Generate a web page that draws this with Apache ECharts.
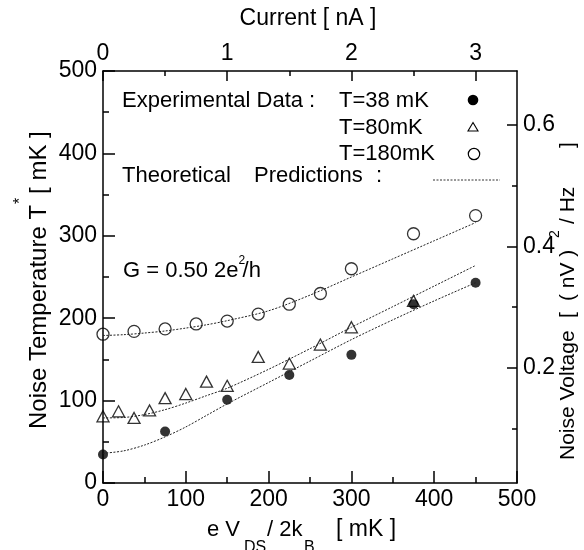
<!DOCTYPE html>
<html><head><meta charset="utf-8">
<script src="https://cdn.jsdelivr.net/npm/echarts@6/dist/echarts.min.js"></script>
<style>html,body{margin:0;padding:0;background:#fff}#c{width:584px;height:550px}</style>
</head><body><div id="c"></div>
<script>
// ---------- data ----------
const exp38X  = [0, 75, 150, 225, 300, 375, 450];
const exp38T  = [34.5, 62.5, 101, 131, 155.5, 217, 243];
const exp80X  = [0, 18.75, 37.5, 56.25, 75, 100, 125, 150, 187.5, 225, 262.5, 300, 375];
const exp80T  = [81, 87, 79, 88, 103, 108, 123, 118, 153, 145, 168, 189, 221];
const exp180X = [0, 37.5, 75, 112.5, 150, 187.5, 225, 262.5, 300, 375, 450];
const exp180T = [180.6, 184, 187, 193, 196.5, 205, 217, 230, 260, 302.5, 324.5];
const theoryX   = [0, 25, 50, 75, 100, 125, 150, 200, 250, 300, 350, 400, 450];
const theory38  = [36, 39, 46, 56, 68, 82, 96, 122, 148, 174, 198, 221, 243];
const theory80  = [79, 79.5, 83, 89, 97, 106, 115, 138, 163, 189, 214, 239, 264];
const theory180 = [179, 180, 182, 184.5, 188, 192, 197, 209, 228, 250, 272, 294, 316];
const bottomTicks = [0, 100, 200, 300, 400, 500];
const bottomMinor = [50, 150, 250, 350, 450];
const leftTicks = [0, 100, 200, 300, 400, 500];
const leftMinor = [50, 150, 250, 350, 450];
const currentTicks = [0, 1, 2, 3];        // nA
const currentMinor = [0.5, 1.5, 2.5];
const mKperNA = 150;
const voltMin = 0.0102, voltMax = 0.689;
const voltTicks = [0.2, 0.4, 0.6];
const voltMinor = [0.1, 0.3, 0.5];

// ---------- helpers ----------
const FONT = '"Liberation Sans", Arial, Helvetica, sans-serif';
const cv = document.createElement('canvas').getContext('2d');
function tw(s, size) { cv.font = size + 'px ' + FONT; return cv.measureText(s).width; }
const pair = (xs, ys) => xs.map((x, i) => [x, ys[i]]);
function txt(x, y, s, size, align) {
  return { type: 'text', x: x, y: y, silent: true,
    style: { text: s, fontSize: size, fontFamily: FONT, fill: '#000',
      align: align || 'left', verticalAlign: 'middle' } };
}

const chart = echarts.init(document.getElementById('c'), null, { renderer: 'canvas' });

const g = [];
g.push(txt(308, 19, 'Current [ nA ]', 23, 'center'));
(function () {
  const s1 = 'Noise Temperature T', fs = 24;
  const w1 = tw(s1, fs);
  g.push({ type: 'group', x: 39, y: 429, rotation: Math.PI / 2, silent: true, children: [
    txt(0, 0, s1, fs),
    txt(w1 + 1, -18, '*', 16),
    txt(w1 + 11, 0, '[ mK ]', fs)
  ]});
})();
(function () {
  const fs = 21;
  g.push({ type: 'group', x: 568, y: 460, rotation: Math.PI / 2, silent: true, children: [
    txt(0, 0, 'Noise Voltage', fs),
    txt(142, 0, '[', fs),
    txt(159, 0, '( nV )', fs),
    txt(222, -13, '2', 14),
    txt(236, 0, '/ Hz', fs),
    txt(312, 0, ']', fs)
  ]});
})();
(function () {
  const fs = 22, fsub = 16, y = 530, ys = 548;
  g.push(txt(207, y, 'e V', fs));
  g.push(txt(244, ys, 'DS', fsub));
  g.push(txt(267, y, '/ 2k', fs));
  g.push(txt(304, ys, 'B', fsub));
  g.push(txt(336, y, '[ mK ]', 23));
})();
g.push(txt(122, 101, 'Experimental Data :', 22));
g.push(txt(339, 101, 'T=38 mK', 22));
g.push(txt(339, 128, 'T=80mK', 22));
g.push(txt(339, 154, 'T=180mK', 22));
g.push({ type: 'circle', silent: true, shape: { cx: 473, cy: 100, r: 5.3 }, style: { fill: '#000' } });
g.push({ type: 'polygon', silent: true, shape: { points: [[473, 122.5], [478, 131], [468, 131]] }, style: { fill: 'none', stroke: '#000', lineWidth: 1.1 } });
g.push({ type: 'circle', silent: true, shape: { cx: 474, cy: 154, r: 5.7 }, style: { fill: 'none', stroke: '#000', lineWidth: 1.2 } });
g.push(txt(122, 176, 'Theoretical', 22));
g.push(txt(254, 176, 'Predictions', 22));
g.push(txt(376, 176, ':', 22));
g.push({ type: 'line', silent: true, shape: { x1: 433, y1: 180, x2: 500, y2: 180 }, style: { stroke: '#333', lineWidth: 1, lineDash: [2, 1.5] } });
(function () {
  const fs = 22, x0 = 123, y = 271;
  const w = tw('G = 0.50 2e', fs);
  g.push(txt(x0, y, 'G = 0.50 2e', fs));
  g.push(txt(x0 + w, y - 10, '2', 12));
  g.push(txt(x0 + w + 4, y, '/h', fs));
})();

const axisLbl = { color: '#000', fontSize: 23, fontFamily: FONT };
function mainAxis(pos, min, max, labels, margin, fmt) {
  const lbl = Object.assign({ margin: margin, customValues: labels }, axisLbl);
  if (fmt) lbl.formatter = fmt;
  return { type: 'value', position: pos, min: min, max: max,
    axisLine: { show: true, onZero: false, lineStyle: { color: '#000', width: 1.5 } },
    splitLine: { show: false }, axisTick: { show: false }, axisLabel: lbl };
}
function tickAxis(pos, min, max, values, len) {
  return { type: 'value', position: pos, min: min, max: max,
    axisLine: { show: false, onZero: false }, splitLine: { show: false },
    axisTick: { show: true, inside: true, length: len, lineStyle: { color: '#000', width: 1.5 }, customValues: values },
    axisLabel: { show: false } };
}
const curMajor = currentTicks.map(c => c * mKperNA);
const curMinor = currentMinor.map(c => c * mKperNA);
const option = {
  backgroundColor: '#fff',
  animation: false,
  grid: { left: 103, top: 71, width: 414, height: 412 },
  xAxis: [
    mainAxis('bottom', 0, 500, bottomTicks, 5),
    mainAxis('top', 0, 500, curMajor, 6, v => String(Math.round(v / mKperNA))),
    tickAxis('bottom', 0, 500, bottomTicks, 12),
    tickAxis('bottom', 0, 500, bottomMinor, 6),
    tickAxis('top', 0, 500, curMajor, 10),
    tickAxis('top', 0, 500, curMinor, 5)
  ],
  yAxis: [
    mainAxis('left', 0, 500, leftTicks, 6),
    mainAxis('right', voltMin, voltMax, voltTicks, 6, v => v.toFixed(1)),
    tickAxis('left', 0, 500, leftTicks, 12),
    tickAxis('left', 0, 500, leftMinor, 6),
    tickAxis('right', voltMin, voltMax, voltTicks, 10),
    tickAxis('right', voltMin, voltMax, voltMinor, 5)
  ],
  series: [
    { name: 'th38', type: 'line', data: pair(theoryX, theory38), smooth: 0.3, showSymbol: false, symbol: 'none',
      lineStyle: { color: '#222', width: 1, type: [2, 1.5] } },
    { name: 'th80', type: 'line', data: pair(theoryX, theory80), smooth: 0.3, showSymbol: false, symbol: 'none',
      lineStyle: { color: '#222', width: 1, type: [2, 1.5] } },
    { name: 'th180', type: 'line', data: pair(theoryX, theory180), smooth: 0.3, showSymbol: false, symbol: 'none',
      lineStyle: { color: '#222', width: 1, type: [2, 1.5] } },
    { name: 'T=38 mK', type: 'scatter', data: pair(exp38X, exp38T), symbol: 'circle', symbolSize: 10,
      itemStyle: { color: '#000' } },
    { name: 'T=80mK', type: 'scatter', data: pair(exp80X, exp80T), symbol: 'triangle', symbolSize: [12, 11],
      itemStyle: { color: 'rgba(0,0,0,0)', borderColor: '#000', borderWidth: 1.3 } },
    { name: 'T=180mK', type: 'scatter', data: pair(exp180X, exp180T), symbol: 'circle', symbolSize: 12,
      itemStyle: { color: 'rgba(0,0,0,0)', borderColor: '#000', borderWidth: 1.3 } }
  ],
  graphic: g
};
chart.setOption(option);
</script>
</body></html>
